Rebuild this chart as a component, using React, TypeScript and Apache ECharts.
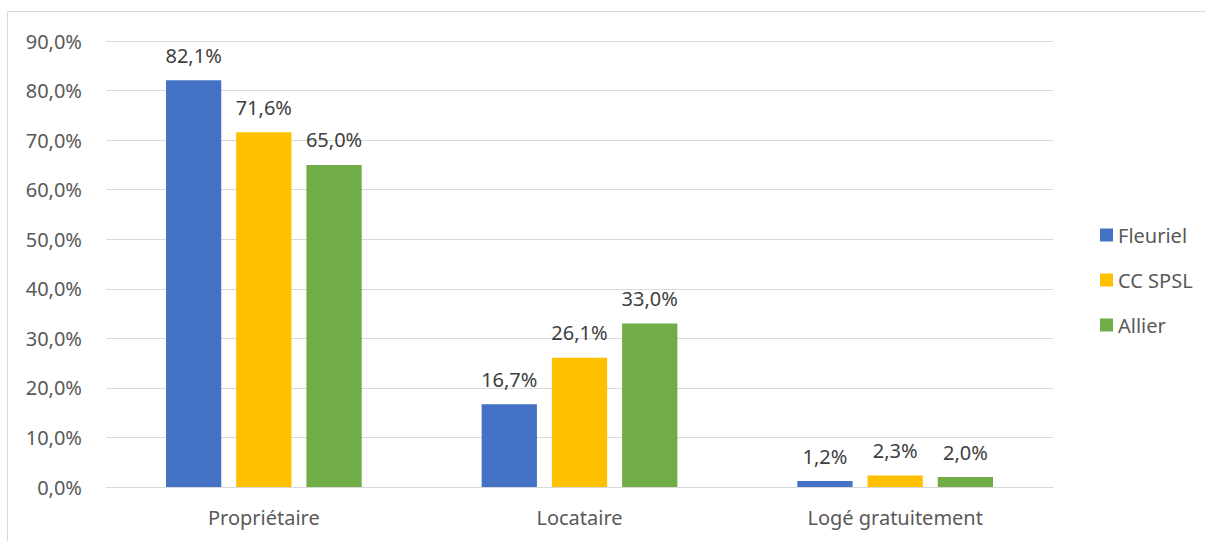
import React, { useEffect, useRef } from "react";
import * as echarts from "echarts";

const categories = ["Propriétaire", "Locataire", "Logé gratuitement"];
const seriesNames = ["Fleuriel", "CC SPSL", "Allier"];
const fleuriel = [82.1, 16.7, 1.2];
const ccSpsl = [71.6, 26.1, 2.3];
const allier = [65.0, 33.0, 2.0];
const colors = ["#4472C4", "#FFC000", "#70AD47"];

const FONT = "Noto Sans";

export default function App() {
  const ref = useRef<HTMLDivElement>(null);

  useEffect(() => {
    document.body.style.margin = "0";
    const chart = echarts.init(ref.current!, null, { renderer: "svg" });
    const fmt = (v: number) => v.toFixed(1).replace(".", ",") + "%";
    const values = [fleuriel, ccSpsl, allier];
    chart.setOption({
      animation: false,
      backgroundColor: "#ffffff",
      graphic: [
        {
          type: "rect",
          shape: { x: 7.5, y: 11.5, width: 1300, height: 600 },
          style: { fill: "none", stroke: "#d9d9d9", lineWidth: 1 },
          silent: true,
        },
      ],
      grid: { left: 106, right: 153, top: 41, bottom: 54 },
      legend: {
        orient: "vertical",
        left: 1095,
        top: 220,
        itemWidth: 13,
        itemHeight: 13,
        itemGap: 25,
        icon: "rect",
        data: seriesNames,
        textStyle: { fontFamily: FONT, fontSize: 20, color: "#595959" },
      },
      xAxis: {
        type: "category",
        data: categories,
        axisLine: { lineStyle: { color: "#d9d9d9", width: 1 } },
        axisTick: { show: false },
        axisLabel: { fontFamily: FONT, fontSize: 20, color: "#595959", margin: 20 },
      },
      yAxis: {
        type: "value",
        min: 0,
        max: 90,
        interval: 10,
        axisLine: { show: false },
        axisTick: { show: false },
        splitLine: { lineStyle: { color: "#d9d9d9", width: 1 } },
        axisLabel: {
          fontFamily: FONT,
          fontSize: 20,
          color: "#595959",
          margin: 24,
          formatter: (v: number) => fmt(v),
        },
      },
      series: seriesNames.map((name, i) => ({
        name,
        type: "bar",
        data: values[i],
        itemStyle: { color: colors[i] },
        barGap: "27%",
        barCategoryGap: "38%",
        label: {
          show: true,
          position: "top",
          distance: 15,
          fontFamily: FONT,
          fontSize: 20,
          color: "#404040",
          formatter: (p: any) => fmt(p.value),
        },
      })),
    });
    return () => chart.dispose();
  }, []);

  return <div ref={ref} style={{ width: 1206, height: 541 }} />;
}
